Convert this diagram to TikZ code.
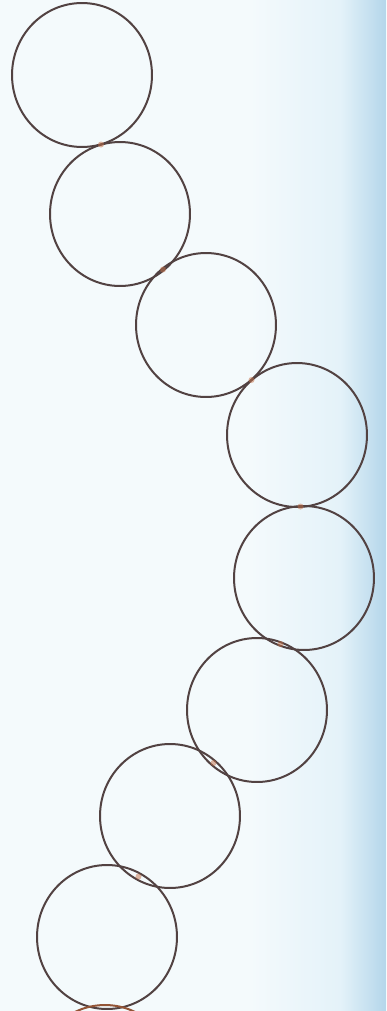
\documentclass[tikz,border=0pt]{standalone}
\usetikzlibrary{calc,shapes.geometric}
\definecolor{paper}{RGB}{244,250,252}
\definecolor{papertint}{RGB}{228,242,249}
\definecolor{paperedge}{RGB}{180,214,234}
\definecolor{ringcol}{RGB}{82,66,66}
\definecolor{touch}{RGB}{196,112,72}
\tikzset{
  ring/.style={ellipse, draw=ringcol, line width=0.04cm, minimum width=2.8cm, minimum height=2.88cm, inner sep=0pt},
  touchmark/.style={fill=touch, opacity=0.5}
}
\begin{document}
\begin{tikzpicture}[x=0.02cm, y=-0.02cm]
  % paper
  \useasboundingbox (0,0) rectangle (386,1011);
  \fill[paper] (0,0) rectangle (386,1011);
  \shade[left color=paper, right color=papertint] (250,0) rectangle (340,1011);
  \shade[left color=papertint, right color=paperedge] (340,0) rectangle (386,1011);
  % chain of rings
  \node[ring] (c1) at (82,75) {};
  \node[ring] (c2) at (120,214) {};
  \node[ring] (c3) at (206,325) {};
  \node[ring] (c4) at (297,435) {};
  \node[ring] (c5) at (304,578) {};
  \node[ring] (c6) at (257,710) {};
  \node[ring] (c7) at (170,816) {};
  \node[ring] (c8) at (107,937) {};
  \node[ring, draw=touch!75!black] (c9) at (105,1077) {};
  % contact points
  \foreach \a/\b in {c1/c2, c2/c3, c3/c4, c4/c5, c5/c6, c6/c7, c7/c8} {
    \fill[touchmark] ($(\a)!0.5!(\b)$) circle (3);
  }
\end{tikzpicture}
\end{document}
